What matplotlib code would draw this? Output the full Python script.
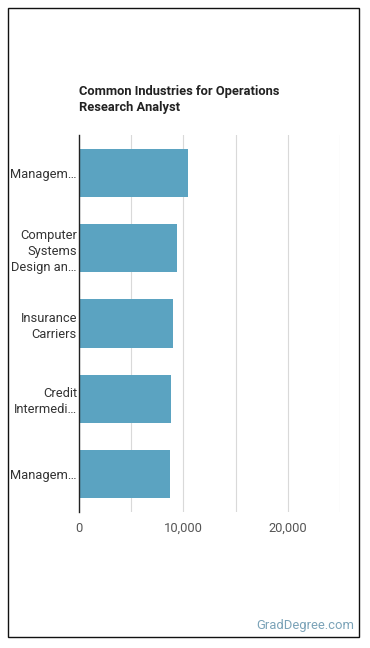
import matplotlib
matplotlib.use("Agg")
import matplotlib.pyplot as plt
from matplotlib.patches import Rectangle
from matplotlib.ticker import FuncFormatter, MultipleLocator

matplotlib.rcParams['font.family'] = ["Roboto", "DejaVu Sans"]

# %% data
industries = [
    "Managem\u2026",
    "Computer\nSystems\nDesign an\u2026",
    "Insurance\nCarriers",
    "Credit\nIntermedi\u2026",
    "Managem\u2026",
]
employment = [10430, 9430, 9040, 8850, 8750]
xTicks = [0, 10000, 20000]

# %%
fig = plt.figure(figsize=(3.7, 6.48), dpi=100)
ax = fig.add_axes([79/370, 1 - 512/648, 261/370, 377/648])

pos = list(range(len(industries)))
ax.barh(pos, employment, height=0.64, color="#5BA3C1", zorder=3)
ax.set_ylim(len(industries) - 0.5, -0.5)
ax.set_xlim(0, 25000)

ax.set_yticks(pos)
ax.set_yticklabels(industries, fontsize=9.3, color="#333333", linespacing=1.3)
ax.set_xticks(xTicks)
ax.xaxis.set_minor_locator(MultipleLocator(5000))
ax.xaxis.set_major_formatter(FuncFormatter(lambda v, p: f"{int(v):,}"))
ax.tick_params("x", labelsize=9.3, labelcolor="#555555", length=0, pad=7)
ax.tick_params("x", which="minor", length=0)
ax.tick_params("y", length=0, pad=1.5)

ax.grid(axis="x", which="both", color="#d9d9d9", linewidth=0.8, zorder=0)
for side in ["top", "right", "bottom"]:
    ax.spines[side].set_visible(False)
ax.spines["left"].set_color("#222222")
ax.spines["left"].set_linewidth(1)
ax.spines["left"].set_zorder(4)

fig.text(79/370, 1 - 99.5/648, "Common Industries for Operations\nResearch Analyst",
         fontsize=9.3, fontweight="bold", color="#222222", va="center", ha="left",
         linespacing=1.35)
fig.text(354/370, 1 - 626/648, "GradDegree.com", fontsize=9.4, color="#7BA3B8",
         ha="right", va="center")

fig.patches.append(Rectangle((8/370, 1 - 637/648), 351/370, 629/648,
                             transform=fig.transFigure, fill=False,
                             edgecolor="#111111", linewidth=1))

plt.savefig("out.png", dpi=100)
